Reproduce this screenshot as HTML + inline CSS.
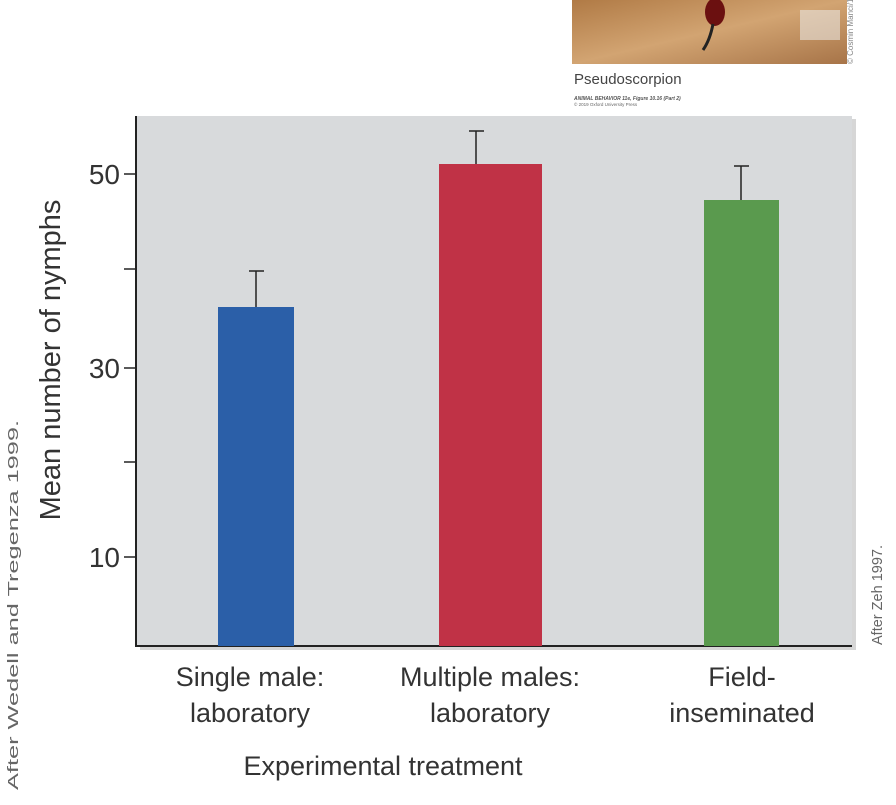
<!DOCTYPE html>
<html><head><meta charset="utf-8"><style>
body{margin:0;background:#fff;width:896px;height:800px;overflow:hidden;font-family:"Liberation Sans",sans-serif;}
</style></head><body>
<svg width="896" height="800" xmlns="http://www.w3.org/2000/svg" font-family="Liberation Sans, sans-serif">
<defs><linearGradient id="wood" x1="0" y1="0" x2="1" y2="1">
<stop offset="0" stop-color="#b07a45"/><stop offset="0.5" stop-color="#d2a472"/><stop offset="1" stop-color="#a77448"/></linearGradient></defs>
<rect x="572" y="0" width="275" height="64" fill="url(#wood)"/>
<rect x="800" y="10" width="40" height="30" fill="#e8e4e0" opacity="0.6"/>
<ellipse cx="715" cy="12" rx="10" ry="14" fill="#6b1010"/>
<path d="M713 24 Q710 40 703 50" stroke="#222" stroke-width="3" fill="none"/>
<text x="853" y="64" font-size="8" fill="#888" transform="rotate(-90 853 64)">© Cosmin Manci/123RF</text>
<text x="574" y="84" font-size="15" fill="#444">Pseudoscorpion</text>
<text x="574" y="100" font-size="5" fill="#555" font-style="italic" font-weight="bold">ANIMAL BEHAVIOR 11e, Figure 10.16 (Part 2)</text>
<text x="574" y="106" font-size="4.5" fill="#666">© 2019 Oxford University Press</text>
<rect x="140" y="119" width="716" height="531" fill="#bbb" opacity="0.6"/>
<rect x="136" y="116" width="716" height="530" fill="#d8dadc"/>
<path d="M136 116 V646 H852" stroke="#222" stroke-width="2" fill="none"/>
<g stroke="#222" stroke-width="1.5">
<line x1="124" y1="174" x2="136" y2="174"/><line x1="124" y1="269" x2="136" y2="269"/>
<line x1="124" y1="368" x2="136" y2="368"/><line x1="124" y1="462" x2="136" y2="462"/>
<line x1="124" y1="557" x2="136" y2="557"/>
</g>
<g font-size="28" fill="#333" text-anchor="end">
<text x="120" y="184">50</text><text x="120" y="378">30</text><text x="120" y="567">10</text></g>
<rect x="218" y="307" width="76" height="339" fill="#2b5fa8"/>
<rect x="439" y="164" width="103" height="482" fill="#c03246"/>
<rect x="704" y="200" width="75" height="446" fill="#5a9a4e"/>
<g stroke="#222" stroke-width="1.5">
<line x1="256" y1="307" x2="256" y2="271"/><line x1="249" y1="271" x2="264" y2="271"/>
<line x1="476" y1="164" x2="476" y2="131"/><line x1="469" y1="131" x2="484" y2="131"/>
<line x1="741" y1="200" x2="741" y2="166"/><line x1="734" y1="166" x2="749" y2="166"/>
</g>
<text x="60" y="360" font-size="29" fill="#333" text-anchor="middle" transform="rotate(-90 60 360)">Mean number of nymphs</text>
<g font-size="27" fill="#333" text-anchor="middle">
<text x="250" y="686">Single male:</text><text x="250" y="722">laboratory</text>
<text x="490" y="686">Multiple males:</text><text x="490" y="722">laboratory</text>
<text x="742" y="686">Field-</text><text x="742" y="722">inseminated</text>
<text x="383" y="775">Experimental treatment</text>
</g>
<text x="18" y="790" font-size="15" fill="#666" transform="rotate(-90 18 790)" textLength="370" lengthAdjust="spacingAndGlyphs">After Wedell and Tregenza 1999.</text>
<text x="882" y="645" font-size="15" fill="#666" transform="rotate(-90 882 645)" textLength="100" lengthAdjust="spacingAndGlyphs">After Zeh 1997.</text>
</svg>
</body></html>
